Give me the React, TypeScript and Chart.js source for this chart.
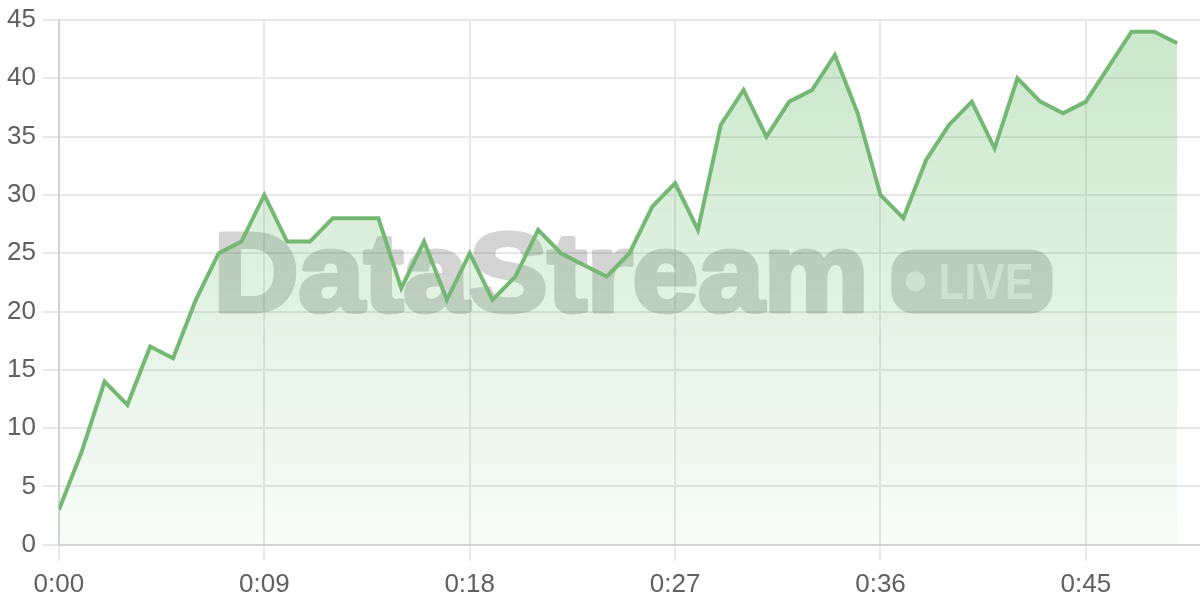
import React, { useEffect, useRef } from 'react';
import { Chart, ChartOptions, Plugin, registerables } from 'chart.js';

Chart.register(...registerables);

// elapsed seconds since stream start
const seconds = [
  0, 1, 2, 3, 4, 5, 6, 7, 8, 9,
  10, 11, 12, 13, 14, 15, 16, 17, 18, 19,
  20, 21, 22, 23, 24, 25, 26, 27, 28, 29,
  30, 31, 32, 33, 34, 35, 36, 37, 38, 39,
  40, 41, 42, 43, 44, 45, 46, 47, 48, 49,
];

const values = [
  3, 8, 14, 12, 17, 16, 21, 25, 26, 30,
  26, 26, 28, 28, 28, 22, 26, 21, 25, 21,
  23, 27, 25, 24, 23, 25, 29, 31, 27, 36,
  39, 35, 38, 39, 42, 37, 30, 28, 33, 36,
  38, 34, 40, 38, 37, 38, 41, 44, 44, 43,
];

const xTickLabels = ['0:00', '0:09', '0:18', '0:27', '0:36', '0:45'];

const LINE = '#74b874';
const FONT = '"Liberation Sans", Arial, sans-serif';

// draws the "DataStream • LIVE" mark behind the series
const watermark: Plugin<'line'> = {
  id: 'watermark',
  beforeDatasetsDraw(chart) {
    const { ctx, chartArea, width, height } = chart;
    const cx = (chartArea.left + chartArea.right) / 2;
    const cy = (chartArea.top + chartArea.bottom) / 2;

    // paint the mark solid off-screen, then lay it down translucent
    const off = document.createElement('canvas');
    off.width = width;
    off.height = height;
    const o = off.getContext('2d')!;
    o.fillStyle = '#646464';
    o.strokeStyle = '#646464';
    o.lineWidth = 5;
    o.lineJoin = 'round';

    o.font = `bold 112px ${FONT}`;
    const w = o.measureText('DataStream').width;
    o.save();
    o.translate(cx - 416, cy + 29);
    o.scale(655 / w, 1);
    o.fillText('DataStream', 0, 0);
    o.strokeText('DataStream', 0, 0);
    o.restore();

    o.beginPath();
    o.roundRect(cx + 262, cy - 33, 161, 64, 22);
    o.fill();

    ctx.save();
    ctx.globalAlpha = 0.28;
    ctx.drawImage(off, 0, 0, width, height);
    ctx.globalAlpha = 1;

    ctx.fillStyle = 'rgba(255,255,255,0.55)';
    ctx.beginPath();
    ctx.arc(cx + 286, cy - 1, 10, 0, Math.PI * 2);
    ctx.fill();

    ctx.font = `bold 50px ${FONT}`;
    const lw = ctx.measureText('LIVE').width;
    ctx.translate(cx + 309, cy + 17);
    ctx.scale(95 / lw, 1);
    ctx.fillText('LIVE', 0, 0);
    ctx.restore();
  },
};

export default function App() {
  const canvasRef = useRef<HTMLCanvasElement>(null);

  useEffect(() => {
    if (!canvasRef.current) return;

    const options: ChartOptions<'line'> = {
      responsive: true,
      maintainAspectRatio: false,
      animation: false,
      layout: { padding: { left: 0, top: 0, right: 0, bottom: -8 } },
      plugins: {
        legend: { display: false },
        tooltip: { enabled: false },
      },
      elements: {
        point: { radius: 0 },
        line: { tension: 0 },
      },
      scales: {
        x: {
          type: 'linear',
          min: 0,
          max: 50,
          grid: { color: '#e8e8e8', lineWidth: 2, tickLength: 16 },
          border: { color: '#d2d2d2', width: 2 },
          ticks: {
            stepSize: 9,
            includeBounds: false,
            autoSkip: false,
            maxRotation: 0,
            padding: 8,
            color: '#606060',
            font: { family: FONT, size: 26 },
            callback: (_v, i) => xTickLabels[i],
          },
        },
        y: {
          min: 0,
          max: 45,
          grid: { color: '#e8e8e8', lineWidth: 2, tickLength: 16 },
          border: { color: '#d2d2d2', width: 2 },
          ticks: {
            stepSize: 5,
            padding: 7,
            color: '#606060',
            font: { family: FONT, size: 26, lineHeight: 1.0 },
          },
        },
      },
    };

    const chart = new Chart(canvasRef.current, {
      type: 'line',
      data: {
        datasets: [
          {
            data: seconds.map((s, i) => ({ x: s, y: values[i] })),
            borderColor: LINE,
            borderWidth: 4,
            fill: 'origin',
            backgroundColor: (context) => {
              const area = context.chart.chartArea;
              if (!area) return 'rgba(76,175,80,0.15)';
              const g = context.chart.ctx.createLinearGradient(0, area.top, 0, area.bottom);
              g.addColorStop(0, 'rgba(76,175,80,0.3)');
              g.addColorStop(1, 'rgba(76,175,80,0.04)');
              return g;
            },
          },
        ],
      },
      options,
      plugins: [watermark],
    });

    return () => {
      chart.destroy();
    };
  }, []);

  return (
    <div style={{ position: 'fixed', left: 0, top: 0, width: 1200, height: 600, background: '#fff' }}>
      <canvas ref={canvasRef} />
    </div>
  );
}
